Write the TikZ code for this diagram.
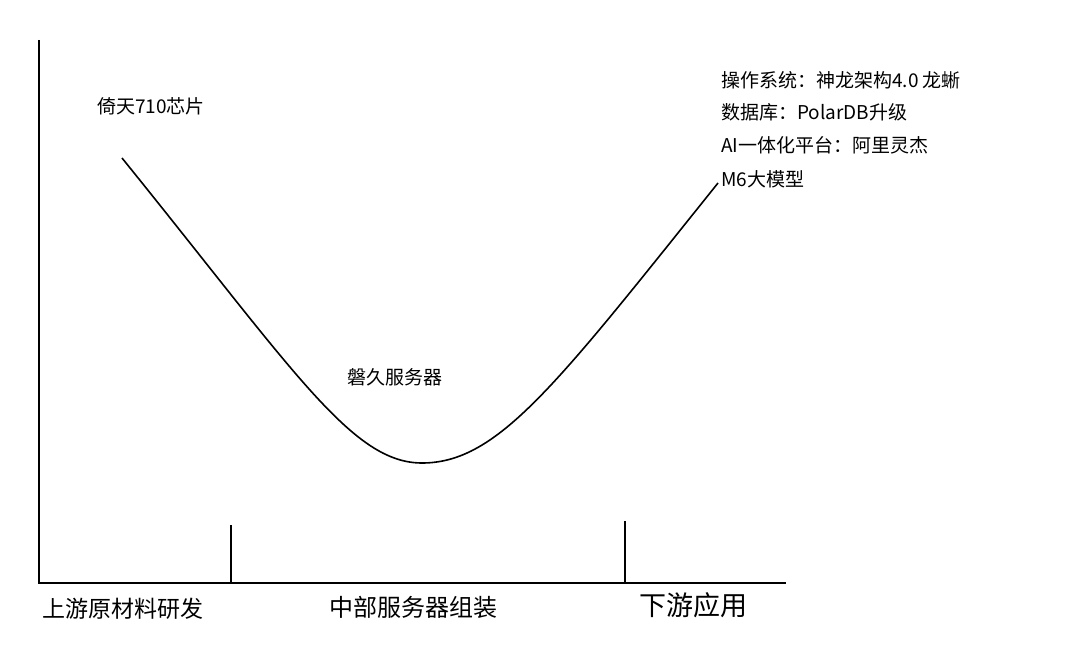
\documentclass[tikz,border=0pt]{standalone}
\usepackage{fontspec}
\newfontfamily\cjk{Noto Sans CJK SC}
\begin{document}
\begin{tikzpicture}[x=1pt,y=-1pt,
	axis/.style={line width=1.7pt},
	lbl/.style={inner sep=0pt,font=\cjk\fontsize{19}{23}\selectfont},
	stage/.style={inner sep=0pt,font=\cjk\fontsize{23}{28}\selectfont}]

\useasboundingbox (0,0) rectangle (1078,668);

\coordinate (o) at (39,583);
\draw[axis] (39,40) -- (o) -- (786,583);
\draw[axis] (231,525) -- (231,583);
\draw[axis] (625,521) -- (625,583);

\draw[line width=1.6pt] (122,158) .. controls (295,372) and (352,463) .. (422,463)
	.. controls (498,463) and (556,385) .. (718,183);

\node[lbl] (chip) at (151,106) {倚天710芯片};
\node[lbl] (server) at (395,377) {磐久服务器};

\node[lbl,anchor=west] (os) at (721,80) {操作系统：神龙架构4.0 龙蜥};
\node[lbl,anchor=west] (db) at (721,112) {数据库：PolarDB升级};
\node[lbl,anchor=west] (ai) at (721,145) {AI一体化平台：阿里灵杰};
\node[lbl,anchor=west] (m6) at (721,179) {M6大模型};

\node[stage] (up) at (123,609) {上游原材料研发};
\node[stage,font=\cjk\fontsize{24}{28}\selectfont] (mid) at (413,607) {中部服务器组装};
\node[stage,font=\cjk\fontsize{27}{32}\selectfont] (down) at (693,605) {下游应用};

\end{tikzpicture}
\end{document}
